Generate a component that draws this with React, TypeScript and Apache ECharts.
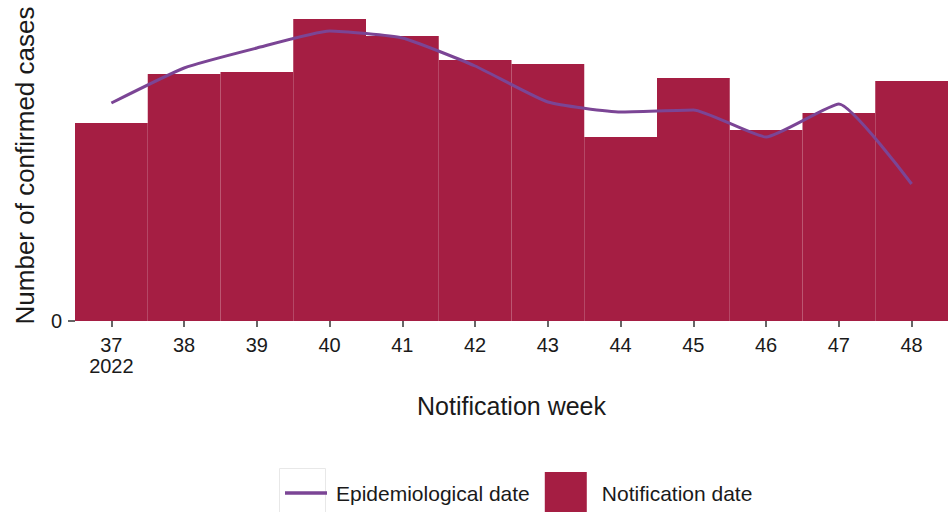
import React, { useEffect, useRef } from "react";
import * as echarts from "echarts";

const weeks = ["37", "38", "39", "40", "41", "42", "43", "44", "45", "46", "47", "48"];
const yearLabel = "2022";
const notificationCases = [198, 247, 249, 302, 285, 261, 257, 184, 243, 191, 208, 240];
const epidemiologicalCases = [218, 253, 273, 290, 283, 255, 219, 209, 211, 184, 217, 137];
const yTicks = [0];

const BAR_COLOR = "#a51e43";
const LINE_COLOR = "#7b4595";

export default function App() {
  const ref = useRef<HTMLDivElement>(null);
  useEffect(() => {
    if (!ref.current) return;
    const chart = echarts.init(ref.current, undefined, { renderer: "svg" });
    chart.setOption({
      animation: false,
      textStyle: { fontFamily: "Liberation Sans, Arial, sans-serif" },
      grid: { left: 75, right: 4, top: 10, bottom: 191, containLabel: false },
      xAxis: {
        type: "category",
        data: weeks,
        boundaryGap: true,
        axisLine: { show: false },
        axisTick: { show: true, alignWithLabel: true, length: 6, lineStyle: { color: "#333", width: 1.5 } },
        axisLabel: {
          color: "#1a1a1a",
          fontSize: 20,
          lineHeight: 21,
          margin: 13,
          formatter: (v: string, i: number) => (i === 0 ? v + "\n" + yearLabel : v),
        },
        name: "Notification week",
        nameLocation: "middle",
        nameGap: 72,
        nameTextStyle: { fontSize: 25, color: "#1a1a1a" },
      },
      yAxis: {
        type: "value",
        min: 0,
        max: 311,
        splitLine: { show: false },
        axisLine: { show: false },
        axisTick: { show: true, length: 7, customValues: yTicks, lineStyle: { color: "#333", width: 1.5 } },
        axisLabel: { fontSize: 20, color: "#1a1a1a", margin: 13, customValues: yTicks },
        name: "Number of confirmed cases",
        nameLocation: "middle",
        nameGap: 37,
        nameTextStyle: { fontSize: 26, color: "#1a1a1a" },
      },
      legend: {
        left: 280,
        top: 467,
        itemWidth: 42,
        itemHeight: 42,
        itemGap: 15,
        symbolKeepAspect: true,
        textStyle: { fontSize: 21, color: "#1a1a1a", padding: [0, 0, 0, 10] },
        data: [
          {
            name: "Epidemiological date",
            icon: "path://M0,0 L40,0 L40,3.5 L0,3.5 Z",
            textStyle: { padding: [0, 0, 0, 4] },
          },
          { name: "Notification date", icon: "rect" },
        ],
      },
      graphic: [
        {
          type: "rect",
          left: 277,
          top: 466,
          shape: { width: 46, height: 45 },
          style: { fill: "none", stroke: "#e8e8e8", lineWidth: 1 },
          silent: true,
        },
      ],
      series: [
        {
          name: "Notification date",
          type: "bar",
          data: notificationCases,
          barCategoryGap: "0%",
          itemStyle: { color: BAR_COLOR },
          z: 1,
        },
        {
          name: "Epidemiological date",
          type: "line",
          data: epidemiologicalCases,
          smooth: 0.15,
          symbol: "none",
          lineStyle: { color: LINE_COLOR, width: 3 },
          itemStyle: { color: LINE_COLOR },
          z: 3,
        },
      ],
    });
    return () => chart.dispose();
  }, []);
  return <div ref={ref} style={{ width: 952, height: 512, position: "absolute", left: 0, top: 0 }} />;
}
